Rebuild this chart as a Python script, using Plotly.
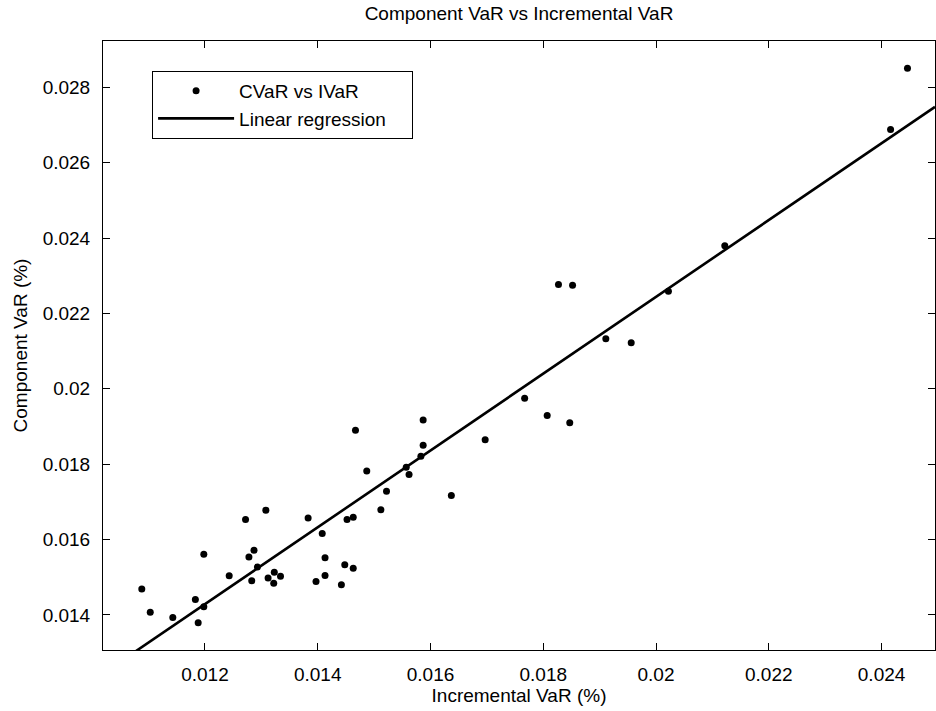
import numpy as np
import plotly.graph_objects as go

# Incremental VaR (x) and Component VaR (y)
ivar = [0.01088, 0.01103, 0.01143, 0.01183, 0.01188, 0.01198, 0.01198, 0.01243,
        0.01272, 0.01278, 0.01283, 0.01287, 0.01293, 0.01308, 0.01312, 0.01323,
        0.01322, 0.01334, 0.01383, 0.01397, 0.01408, 0.01413, 0.01413, 0.01442,
        0.01448, 0.01452, 0.01463, 0.01463, 0.01467, 0.01487, 0.01512, 0.01522,
        0.01637, 0.01697, 0.01587, 0.01587, 0.01583, 0.01557, 0.01562, 0.01767,
        0.01807, 0.01847, 0.01827, 0.01852, 0.01911, 0.01956, 0.02022, 0.02122,
        0.02416, 0.02446]
cvar = [0.01469, 0.01407, 0.01393, 0.01441, 0.01379, 0.01422, 0.01561, 0.01504,
        0.01653, 0.01554, 0.01491, 0.01572, 0.01527, 0.01678, 0.01498, 0.01513,
        0.01484, 0.01503, 0.01657, 0.01489, 0.01616, 0.01552, 0.01505, 0.01480,
        0.01533, 0.01653, 0.01659, 0.01524, 0.01890, 0.01782, 0.01679, 0.01728,
        0.01717, 0.01865, 0.01917, 0.01850, 0.01821, 0.01792, 0.01773, 0.01975,
        0.01929, 0.01910, 0.02277, 0.02275, 0.02133, 0.02122, 0.02259, 0.02380,
        0.02688, 0.02851]

# Regression line parameters
reg_slope = 1.019
reg_intercept = 0.00206

x_ticks = [0.012, 0.014, 0.016, 0.018, 0.020, 0.022, 0.024]
x_tick_labels = ["0.012", "0.014", "0.016", "0.018", "0.02", "0.022", "0.024"]
y_ticks = [0.014, 0.016, 0.018, 0.020, 0.022, 0.024, 0.026, 0.028]
y_tick_labels = ["0.014", "0.016", "0.018", "0.02", "0.022", "0.024", "0.026", "0.028"]

x_range = [0.010192, 0.024948]
y_range = [0.01307, 0.02923]

FONT = "Liberation Sans, Arial, Helvetica, sans-serif"
PAD = "\u00a0" * 4

fig = go.Figure()
fig.add_trace(go.Scatter(
    x=ivar, y=cvar, mode="markers", name="CVaR vs IVaR" + PAD,
    marker=dict(color="black", size=7),
))
line_x = np.array(x_range)
fig.add_trace(go.Scatter(
    x=line_x, y=reg_intercept + reg_slope * line_x, mode="lines",
    name="Linear regression" + PAD, line=dict(color="black", width=2.6),
))

axis_common = dict(
    showgrid=False, zeroline=False, showline=True, linecolor="black", linewidth=1,
    mirror="ticks", ticks="inside", ticklen=7, tickcolor="black", tickwidth=1,
    tickfont=dict(family=FONT, size=19, color="black"),
)
fig.update_xaxes(range=x_range, tickvals=x_ticks, ticktext=x_tick_labels,
                 title=dict(text="Incremental VaR (%)", font=dict(family=FONT, size=19, color="black"), standoff=4),
                 ticklabelstandoff=7, **axis_common)
fig.update_yaxes(range=y_range, tickvals=y_ticks, ticktext=y_tick_labels,
                 title=dict(text="Component VaR (%)", font=dict(family=FONT, size=19, color="black"), standoff=10),
                 ticklabelstandoff=8, **axis_common)

fig.update_layout(
    width=936, height=711,
    margin=dict(l=103, r=1, t=41, b=61),
    plot_bgcolor="white", paper_bgcolor="white",
    title=dict(text="Component VaR vs Incremental VaR", x=0.5545, xanchor="center",
               y=0.981, yanchor="middle", font=dict(family=FONT, size=19, color="black")),
    legend=dict(x=0.059, y=0.951, xanchor="left", yanchor="top",
                bordercolor="black", borderwidth=1, bgcolor="white",
                font=dict(family=FONT, size=19, color="black"), itemwidth=76),
    showlegend=True,
)

fig.write_html("out.html")
